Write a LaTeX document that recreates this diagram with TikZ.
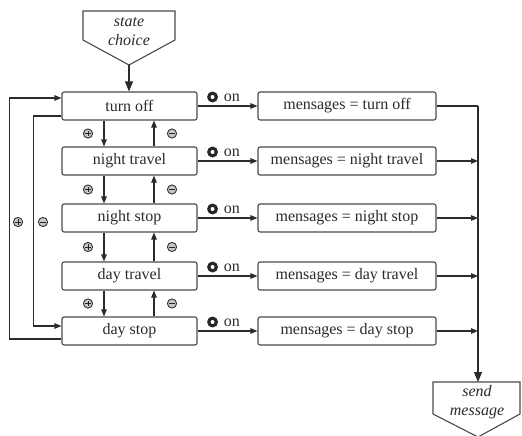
\documentclass[tikz,border=0pt]{standalone}
\usepackage{fontspec}
\setmainfont{Liberation Serif}
\usetikzlibrary{arrows.meta,calc}
\definecolor{ink}{HTML}{2B2B2B}
\definecolor{frame}{HTML}{4A4A4A}
\tikzset{
  state/.style={draw=frame, line width=1.1pt, rounded corners=2pt, fill=white,
    minimum width=135pt, minimum height=28pt, inner sep=0pt, text=ink,
    font=\fontsize{16}{19}\selectfont},
  msg/.style={state, minimum width=178pt},
  wire/.style={draw=ink, line width=1.1pt},
  flow/.style={wire, -{Triangle[length=7pt,width=5.5pt]}},
  bigflow/.style={wire, -{Triangle[length=10pt,width=8pt]}},
  tag/.style={text=ink, inner sep=0pt, font=\fontsize{16}{19}\selectfont},
  banner/.style={draw=frame, line width=1.1pt, fill=white, line join=miter},
  bannertext/.style={text=ink, inner sep=0pt, align=center,
    font=\fontsize{16}{19}\selectfont\itshape},
  plussign/.pic={
    \draw[fill=gray!45, draw=black!80, line width=0.9pt] (0,0) circle (4.6pt);
    \draw[black!85, line width=1pt] (-2.6pt,0) -- (2.6pt,0) (0,-2.6pt) -- (0,2.6pt);
  },
  minussign/.pic={
    \draw[fill=gray!45, draw=black!80, line width=0.9pt] (0,0) circle (4.6pt);
    \draw[black!85, line width=1pt] (-2.6pt,0) -- (2.6pt,0);
  },
  onsign/.pic={
    \fill[black!85] (0,0) circle (5.5pt);
    \fill[white] (0,0) circle (2pt);
  }
}
\begin{document}
\begin{tikzpicture}[x=1pt, y=-1pt]
\useasboundingbox (0,0) rectangle (522,436);

% entry banner
\draw[banner] (83,11) -- (175,11) -- (175,40) -- (129,65) -- (83,40) -- cycle;
\node[bannertext] (choice) at (129,32) {state\\choice};
\coordinate (entry) at (129,65);

% exit banner
\draw[banner] (433,382) -- (520,382) -- (520,414) -- (478,437) -- (433,414) -- cycle;
\node[bannertext] (send) at (477,402) {send\\message};
\coordinate (exit) at (478,382);

% state boxes
\node[state] (off)  at (129.5,106) {turn off};
\node[state] (ntr)  at (129.5,161) {night travel};
\node[state] (nst)  at (129.5,218) {night stop};
\node[state] (dtr)  at (129.5,276) {day travel};
\node[state] (dst)  at (129.5,331) {day stop};

% message boxes
\node[msg] (moff) at (347,106) {mensages = turn off};
\node[msg] (mntr) at (347,161) {mensages = night travel};
\node[msg] (mnst) at (347,218) {mensages = night stop};
\node[msg] (mdtr) at (347,276) {mensages = day travel};
\node[msg] (mdst) at (347,331) {mensages = day stop};

% columns of the step connectors and the output bus
\coordinate (dn)  at (104,0);
\coordinate (up)  at (154,0);
\coordinate (bus) at (478,0);

\draw[bigflow] (entry) -- (off.north -| entry);

% step down / step up between neighbouring states
\foreach \a/\b in {off/ntr, ntr/nst, nst/dtr, dtr/dst}{
  \draw[flow] (\a.south -| dn) -- (\b.north -| dn);
  \draw[flow] (\b.north -| up) -- (\a.south -| up);
  \path ($(\a.south)!0.5!(\b.north)$) coordinate (mid\a);
  \pic at ($(mid\a -| dn)+(-16,0)$) {plussign};
  \pic at ($(mid\a -| up)+(18,0)$) {minussign};
}

% wrap-around loops on the left
\draw[flow] ([yshift=-8pt]dst.west) -- ++(-52,0) |- ([yshift=8pt]off.west);
\draw[flow] ([yshift=-10pt]off.west) -- ++(-28,0) |- ([yshift=5pt]dst.west);
\pic at (18,222) {plussign};
\pic at (43,222) {minussign};

% "on" transitions to the message boxes
\foreach \s/\m in {off/moff, ntr/mntr, nst/mnst, dtr/mdtr, dst/mdst}{
  \draw[flow] (\s.east) -- (\m.west);
  \pic at ($(\s.east)+(15,-9)$) {onsign};
  \node[tag, anchor=base west] (on\s) at ($(\s.east)+(26,-5)$) {on};
}

% output bus to the exit banner
\draw[wire] (moff.east) -- (moff.east -| bus);
\foreach \m in {mntr, mnst, mdtr, mdst}{
  \draw[flow] (\m.east) -- (\m.east -| bus);
}
\draw[bigflow] (moff.east -| bus) -- (exit);
\end{tikzpicture}
\end{document}
